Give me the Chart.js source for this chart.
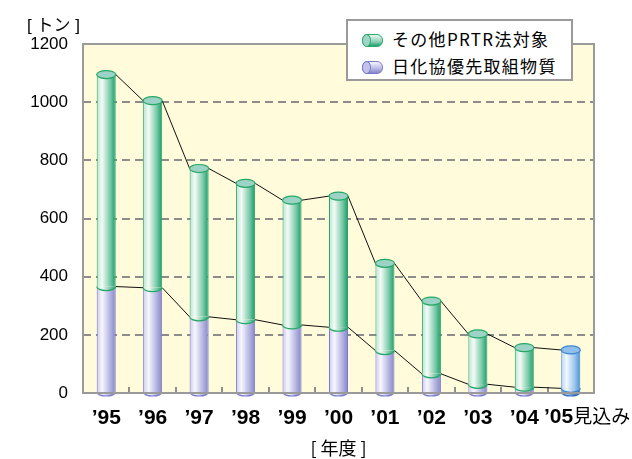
<!DOCTYPE html>
<html lang="ja">
<head>
<meta charset="utf-8">
<script src="https://cdn.jsdelivr.net/npm/chart.js@4/dist/chart.umd.min.js"></script>
<style>
  html, body { margin: 0; padding: 0; background: #fff; }
  #wrap { position: relative; width: 632px; height: 459px; }
  #chart { position: absolute; left: 0; top: 0; }
  .lbl { position: absolute; font-family: "Liberation Sans", "Noto Sans CJK JP", sans-serif; color: #000; white-space: nowrap; }
  #unit { left: 27px; top: 11px; font-size: 17px; }
  #lastYear { left: 544px; top: 402px; font-size: 21px; line-height: 26px; }
  #lastYear b { font-weight: bold; }
  #lastYear span { font-family: "Noto Sans CJK JP", sans-serif; font-size: 19px; }
  #legend { position: absolute; left: 346px; top: 19px; width: 223px; height: 58px;
    background: #fff; border: 2px solid #9a9a9a; }
  .row { position: absolute; left: 14px; height: 20px; font-family: "Noto Sans CJK JP", sans-serif;
    font-size: 17px; letter-spacing: 1.3px; line-height: 20px; white-space: nowrap; }
  .icon { display: inline-block; position: relative; width: 19px; height: 11px; vertical-align: -1px;
    margin-right: 9px; border-radius: 6px; }
  .icon i { position: absolute; left: -1px; top: -1px; width: 7px; height: 11px; border-radius: 50%; }
  .green { background: linear-gradient(to bottom, #e9f7f0, #8fd1b6 60%, #1f9f70); border: 1px solid #2aaa66; }
  .green i { background: #9fd4c8; border: 1px solid #2aaa66; }
  .blue { background: linear-gradient(to bottom, #f5f5ff, #b8b8e6 60%, #8585c8); border: 1px solid #7a7acc; }
  .blue i { background: #c2c2ea; border: 1px solid #7a7acc; }
</style>
</head>
<body>
<div id="wrap">
  <canvas id="chart" width="632" height="459"></canvas>
  <div id="unit" class="lbl">[ トン ]</div>
  <div id="lastYear" class="lbl"></div>
  <div id="legend">
    <div class="row" style="top:8px"><span class="icon green"><i></i></span>その他PRTR法対象</div>
    <div class="row" style="top:35px"><span class="icon blue"><i></i></span>日化協優先取組物質</div>
  </div>
</div>
<script>
// 年度
const years = ['’95', '’96', '’97', '’98', '’99', '’00', '’01', '’02', '’03', '’04', '’05見込み'];
// 日化協優先取組物質 (下段)
const priorityTons = [366, 362, 262, 252, 234, 226, 146, 66, 30, 20, 16];
// その他PRTR法対象 (上段)
const otherTons = [729, 643, 510, 469, 429, 451, 300, 250, 173, 136, 132];
const yTicks = [0, 200, 400, 600, 800, 1000, 1200];

const FORECAST = years.length - 1; // 見込みの年
const BAR_FRACTION = 0.41;
const RY = 4;

// 最後の年度ラベルは「見込み」を細字で右にずらして表示
const lastLabel = years[FORECAST];
document.getElementById('lastYear').innerHTML =
  '<b>' + lastLabel.slice(0, 3) + '</b><span>' + lastLabel.slice(3) + '</span>';

// 色 (円柱の左→右グラデーション)
const COLORS = {
  green: { stops: ['#b9e2d2', '#f3fbf7', '#7ccaa9', '#169a68'], line: '#25a865', top: '#9dd3c6' },
  blue: { stops: ['#c9c9ec', '#f7f7ff', '#b4b4e2', '#8585c6'], line: '#7a7acc', top: '#c4c4ea' },
  sky: { stops: ['#b8d6f2', '#f2f8ff', '#9cc6ee', '#4a90d6'], line: '#3a86d0', top: '#8fbfea' },
  navy: { stops: ['#6f9ad0', '#a9c6ea', '#4f82c4', '#2c5ea6'], line: '#2f6fc0', top: '#5b8fcf' }
};

function barGeom(chart, index) {
  const xs = chart.scales.x;
  const x = xs.getPixelForValue(index);
  const w = (xs.width / years.length) * BAR_FRACTION;
  return { x, w };
}

function makeGradient(ctx, x, w, stops) {
  const g = ctx.createLinearGradient(x - w / 2, 0, x + w / 2, 0);
  g.addColorStop(0, stops[0]);
  g.addColorStop(0.28, stops[1]);
  g.addColorStop(0.7, stops[2]);
  g.addColorStop(1, stops[3]);
  return g;
}

function paletteFor(datasetIndex, index) {
  if (index === FORECAST) return datasetIndex === 0 ? COLORS.navy : COLORS.sky;
  return datasetIndex === 0 ? COLORS.blue : COLORS.green;
}

function scriptedFill(context) {
  const chart = context.chart;
  const pal = paletteFor(context.datasetIndex, context.dataIndex);
  if (!chart.chartArea) return pal.stops[2];
  const { x, w } = barGeom(chart, context.dataIndex);
  return makeGradient(chart.ctx, x, w, pal.stops);
}

function scriptedLine(context) {
  return paletteFor(context.datasetIndex, context.dataIndex).line;
}

// 背景・枠・目盛り・円柱のふた・折れ線
const cylinderPlugin = {
  id: 'cylinder',
  beforeDatasetsDraw(chart) {
    const { ctx, chartArea: a } = chart;
    ctx.save();
    ctx.fillStyle = '#fffbdb';
    ctx.fillRect(a.left, a.top, a.right - a.left, a.bottom - a.top);
    ctx.restore();
    // 背景で隠れたグリッドを描き直す
    chart.scales.y.drawGrid(a);
    // x軸の内向き目盛り
    const xs = chart.scales.x;
    const step = xs.width / years.length;
    ctx.save();
    ctx.strokeStyle = '#8f8f8f';
    ctx.lineWidth = 2;
    for (let i = 1; i < years.length; i++) {
      const x = Math.round(xs.left + i * step);
      ctx.beginPath();
      ctx.moveTo(x, a.bottom);
      ctx.lineTo(x, a.bottom - 6);
      ctx.stroke();
    }
    ctx.restore();
  },
  afterDatasetsDraw(chart) {
    const { ctx, chartArea: a } = chart;
    const lower = chart.getDatasetMeta(0).data;
    const upper = chart.getDatasetMeta(1).data;

    // 折れ線 (右端 → 次の左端)
    ctx.save();
    ctx.strokeStyle = '#111';
    ctx.lineWidth = 1;
    [lower, upper].forEach(els => {
      for (let i = 0; i < els.length - 1; i++) {
        const p = els[i].getProps(['x', 'y', 'width'], true);
        const q = els[i + 1].getProps(['x', 'y', 'width'], true);
        ctx.beginPath();
        ctx.moveTo(p.x + p.width / 2, p.y);
        ctx.lineTo(q.x - q.width / 2, q.y);
        ctx.stroke();
      }
    });
    ctx.restore();

    // 円柱の底面・上面
    ctx.save();
    [lower, upper].forEach((els, di) => {
      els.forEach((el, i) => {
        const p = el.getProps(['x', 'y', 'base', 'width'], true);
        const pal = paletteFor(di, i);
        const rx = p.width / 2;
        ctx.beginPath();
        ctx.ellipse(p.x, p.base, rx, RY, 0, 0, Math.PI);
        ctx.closePath();
        ctx.fillStyle = makeGradient(ctx, p.x, p.width, pal.stops);
        ctx.fill();
        ctx.beginPath();
        ctx.ellipse(p.x, p.base, rx, RY, 0, 0, Math.PI);
        ctx.strokeStyle = pal.line;
        ctx.lineWidth = 1.2;
        ctx.stroke();
        if (di === 1) {
          ctx.beginPath();
          ctx.ellipse(p.x, p.y, rx, RY, 0, 0, Math.PI * 2);
          ctx.fillStyle = pal.top;
          ctx.fill();
          ctx.stroke();
        }
      });
    });
    ctx.restore();

    // 枠
    ctx.save();
    ctx.strokeStyle = '#9a9a9a';
    ctx.lineWidth = 2;
    ctx.strokeRect(a.left, a.top, a.right - a.left, a.bottom - a.top);
    ctx.restore();
  }
};

new Chart(document.getElementById('chart').getContext('2d'), {
  type: 'bar',
  data: {
    labels: years,
    datasets: [
      {
        label: '日化協優先取組物質',
        data: priorityTons,
        backgroundColor: scriptedFill,
        borderColor: scriptedLine,
        borderWidth: { left: 1, right: 1, top: 0, bottom: 0 },
        borderSkipped: false,
        categoryPercentage: 0.82,
        barPercentage: 0.5
      },
      {
        label: 'その他PRTR法対象',
        data: otherTons,
        backgroundColor: scriptedFill,
        borderColor: scriptedLine,
        borderWidth: { left: 1, right: 1, top: 0, bottom: 0 },
        borderSkipped: false,
        categoryPercentage: 0.82,
        barPercentage: 0.5
      }
    ]
  },
  options: {
    responsive: false,
    animation: false,
    layout: { padding: { left: 0, right: 38, top: 44, bottom: 0 } },
    plugins: {
      legend: { display: false },
      tooltip: { enabled: false }
    },
    scales: {
      x: {
        stacked: true,
        grid: { display: false },
        border: { display: false },
        ticks: {
          color: '#000',
          padding: 5,
          maxRotation: 0,
          autoSkip: false,
          // 最後の年度は HTML ラベルで表示
          callback: (value, index) => (index === FORECAST ? '' : years[index]),
          font: { family: "'Liberation Sans', 'Noto Sans CJK JP'", size: 21, weight: 'bold' }
        },
        title: {
          display: true,
          text: '[ 年度 ]',
          color: '#000',
          font: { family: "'Noto Sans CJK JP', 'Liberation Sans'", size: 18 },
          padding: { top: 0, bottom: 0 }
        },
        afterFit: scale => { scale.height = 66; }
      },
      y: {
        stacked: true,
        min: 0,
        max: 1200,
        afterBuildTicks: scale => { scale.ticks = yTicks.map(v => ({ value: v })); },
        grid: {
          drawTicks: false,
          lineWidth: 2,
          color: c => (c.tick && (c.tick.value === 0 || c.tick.value === 1200)) ? 'rgba(0,0,0,0)' : '#8c8c8c'
        },
        border: { display: false, dash: [8, 5] },
        ticks: {
          color: '#000',
          padding: 15,
          callback: value => String(value),
          font: { family: "'Liberation Sans', sans-serif", size: 17 }
        },
        afterFit: scale => { scale.width = 83; }
      }
    }
  },
  plugins: [cylinderPlugin]
});
</script>
</body>
</html>
